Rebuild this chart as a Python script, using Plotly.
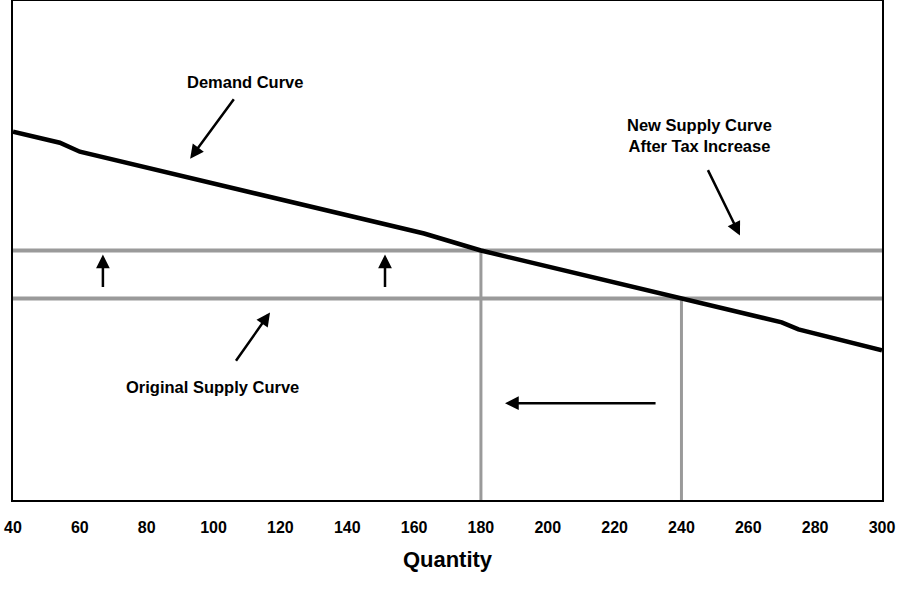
import plotly.graph_objects as go

# demand curve (quantity, price)
demand_q = [40, 54, 60, 163, 180, 240, 270, 275, 300]
demand_p = [73.8, 71.6, 69.8, 53.4, 50.0, 40.4, 35.6, 34.2, 30.0]

# supply levels (price)
supply_original = 40.4
supply_new = 50.0

# equilibrium quantities
q_new = 180
q_original = 240

x_range = [40, 300]
x_ticks = list(range(40, 301, 20))

FONT = "Liberation Sans, Arial, sans-serif"
GRAY = "#9a9a9a"

fig = go.Figure()

# supply curves
fig.add_trace(go.Scatter(x=x_range, y=[supply_new, supply_new], mode='lines',
                         line=dict(color=GRAY, width=4), hoverinfo='skip'))
fig.add_trace(go.Scatter(x=x_range, y=[supply_original, supply_original], mode='lines',
                         line=dict(color=GRAY, width=4), hoverinfo='skip'))

# vertical drop lines
fig.add_trace(go.Scatter(x=[q_new, q_new], y=[supply_new, 0], mode='lines',
                         line=dict(color=GRAY, width=3), hoverinfo='skip'))
fig.add_trace(go.Scatter(x=[q_original, q_original], y=[supply_original, 0], mode='lines',
                         line=dict(color=GRAY, width=3), hoverinfo='skip'))

# demand curve
fig.add_trace(go.Scatter(x=demand_q, y=demand_p, mode='lines',
                         line=dict(color='black', width=4.5), hoverinfo='skip'))

def arrow(x, y, ax, ay):
    fig.add_annotation(x=x, y=y, ax=ax, ay=ay, xref='x', yref='y', axref='x', ayref='y',
                       text='', showarrow=True, arrowhead=2, arrowsize=1.1,
                       arrowwidth=2.5, arrowcolor='black')

def label(x, y, text):
    fig.add_annotation(x=x, y=y, xref='x', yref='y', text=text, showarrow=False,
                       font=dict(family=FONT, size=16.5, color='black', weight='bold'))

arrow(93.0, 68.4, 106.4, 80.6)
label(109.4, 83.8, "Demand Curve")

arrow(257.5, 53.0, 247.7, 66.4)
label(245.3, 73.0, "New Supply Curve<br>After Tax Increase")

arrow(66.9, 49.2, 66.9, 42.4)
arrow(151.3, 49.2, 151.3, 42.4)

arrow(116.9, 37.6, 106.4, 27.6)
label(99.8, 22.6, "Original Supply Curve")

arrow(187.2, 19.4, 232.7, 19.4)

fig.update_layout(
    width=904, height=604,
    margin=dict(l=13, r=22, t=1, b=104),
    plot_bgcolor='white', paper_bgcolor='white',
    showlegend=False,
    font=dict(family=FONT, color='black'),
    xaxis=dict(range=x_range, tickvals=x_ticks, showgrid=False, zeroline=False,
               showline=True, linecolor='black', linewidth=2, mirror=True,
               ticks='', ticklabelstandoff=12, automargin=False,
               tickfont=dict(size=16, weight='bold'),
               title=dict(text='Quantity', font=dict(size=22, weight='bold'), standoff=16)),
    yaxis=dict(range=[0, 100], showgrid=False, zeroline=False, showticklabels=False,
               showline=True, linecolor='black', linewidth=2, mirror=True, ticks='',
               automargin=False),
)

fig.write_html("out.html", config={'displayModeBar': False},
               post_script="document.body.style.margin='0px';")
